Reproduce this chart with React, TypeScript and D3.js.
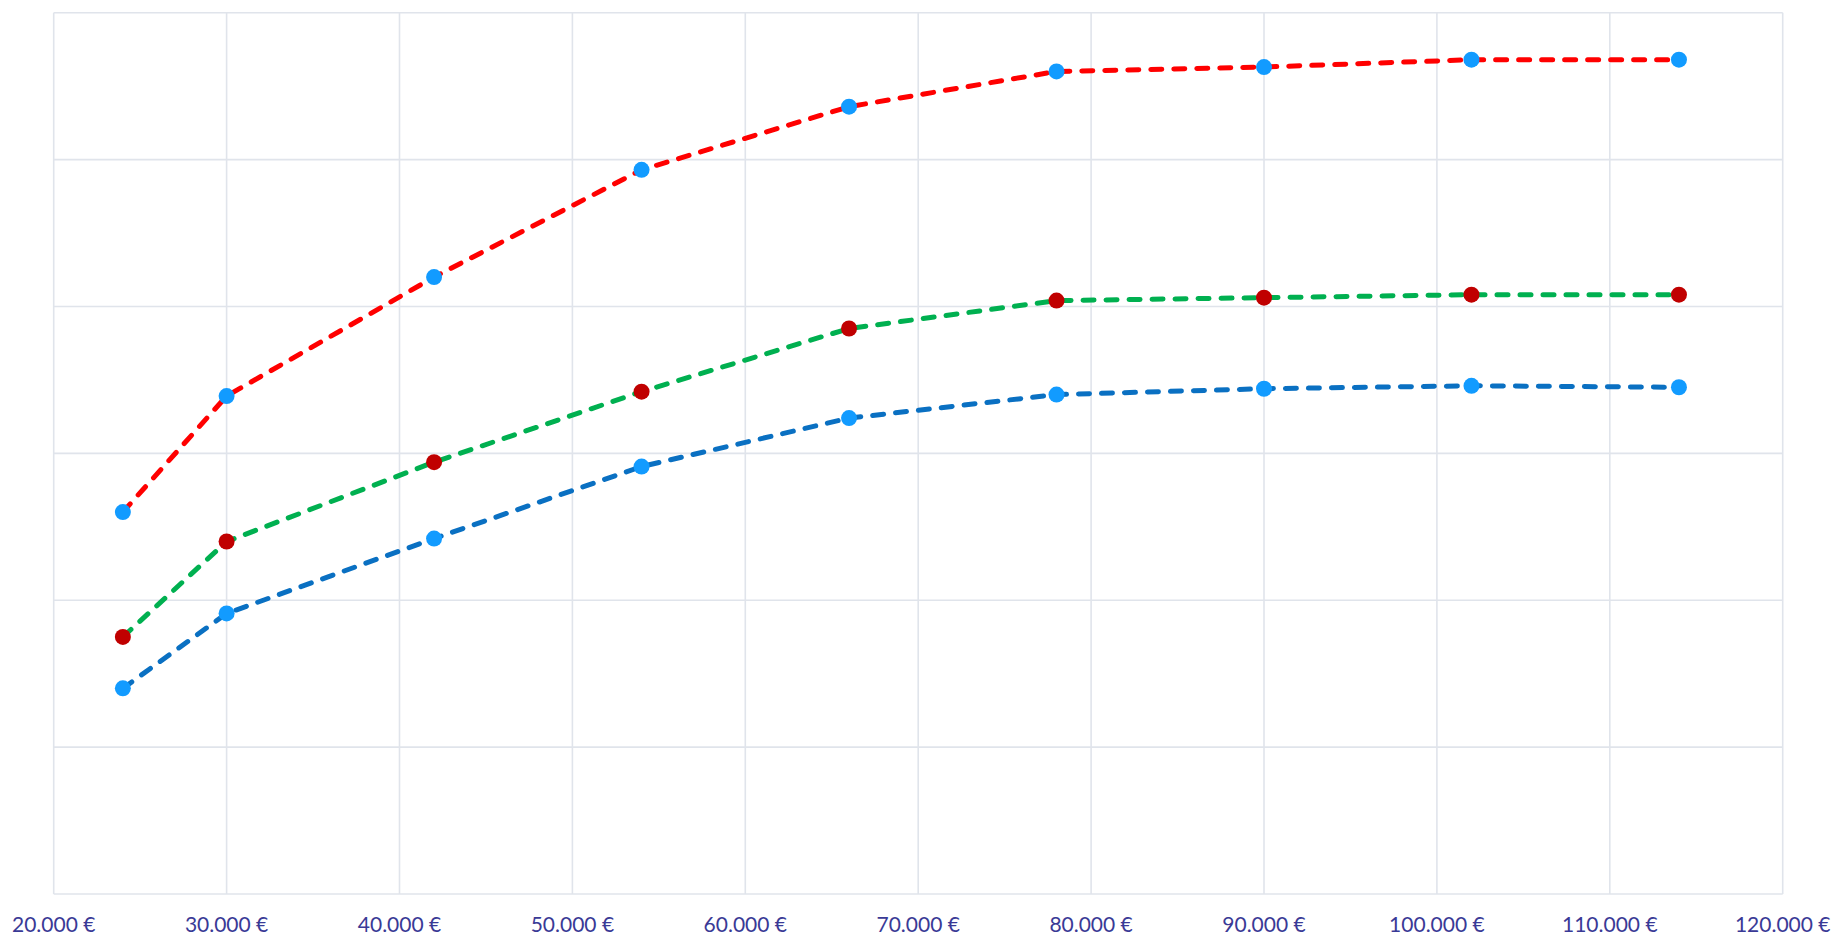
import { useEffect, useRef } from "react";
import * as d3 from "d3";

// salary steps (x) and three series
const salaries = [24000, 30000, 42000, 54000, 66000, 78000, 90000, 102000, 114000];
const redSeries = [2.6, 3.39, 4.2, 4.93, 5.36, 5.6, 5.63, 5.68, 5.68];
const greenSeries = [1.75, 2.4, 2.94, 3.42, 3.85, 4.04, 4.06, 4.08, 4.08];
const blueSeries = [1.4, 1.91, 2.42, 2.91, 3.24, 3.4, 3.44, 3.46, 3.45];
const xTicks = [20000, 30000, 40000, 50000, 60000, 70000, 80000, 90000, 100000, 110000, 120000];
const yTicks = [0, 1, 2, 3, 4, 5, 6];

const series = [
  { values: redSeries, line: "#ff0000", marker: "#129bff" },
  { values: greenSeries, line: "#00b050", marker: "#c00000" },
  { values: blueSeries, line: "#0a70c2", marker: "#129bff" },
];

const W = 1836;
const H = 936;
const margin = { left: 53.7, right: 53.3, top: 12.7, bottom: 42 };

const fmt = (v: number) => d3.format(",")(v).replace(/,/g, ".") + " €";

export default function App() {
  const svgRef = useRef<SVGSVGElement>(null);

  useEffect(() => {
    if (!svgRef.current) return;
    const svg = d3.select(svgRef.current);
    svg.selectAll("*").remove();

    const x = d3
      .scaleLinear()
      .domain([20000, 120000])
      .range([margin.left, W - margin.right]);
    const y = d3
      .scaleLinear()
      .domain([0, 6])
      .range([H - margin.bottom, margin.top]);

    const grid = svg.append("g").attr("stroke", "#e0e4eb").attr("stroke-width", 1.6);
    grid
      .selectAll("line.h")
      .data(yTicks)
      .join("line")
      .attr("x1", x(20000))
      .attr("x2", x(120000))
      .attr("y1", (d) => y(d))
      .attr("y2", (d) => y(d));
    grid
      .selectAll("line.v")
      .data(xTicks)
      .join("line")
      .attr("x1", (d) => x(d))
      .attr("x2", (d) => x(d))
      .attr("y1", y(0))
      .attr("y2", y(6));

    svg
      .append("g")
      .selectAll("text")
      .data(xTicks)
      .join("text")
      .attr("x", (d) => x(d))
      .attr("y", 932)
      .attr("text-anchor", "middle")
      .attr("font-family", "Lato, 'Open Sans', sans-serif")
      .attr("font-size", 21)
      .attr("fill", "#3a3a96")
      .text((d) => fmt(d));

    const line = d3
      .line<number>()
      .x((_, i) => x(salaries[i]))
      .y((d) => y(d));

    series.forEach((s) => {
      svg
        .append("path")
        .datum(s.values)
        .attr("fill", "none")
        .attr("stroke", s.line)
        .attr("stroke-width", 5)
        .attr("stroke-linecap", "round")
        .attr("stroke-linejoin", "round")
        .attr("stroke-dasharray", "11 12")
        .attr("d", line);
    });

    series.forEach((s) => {
      svg
        .append("g")
        .selectAll("circle")
        .data(s.values)
        .join("circle")
        .attr("cx", (_, i) => x(salaries[i]))
        .attr("cy", (d) => y(d))
        .attr("r", 8)
        .attr("fill", s.marker);
    });
  }, []);

  return (
    <svg
      ref={svgRef}
      width={W}
      height={H}
      style={{ position: "absolute", left: 0, top: 0, background: "#fff" }}
    />
  );
}
